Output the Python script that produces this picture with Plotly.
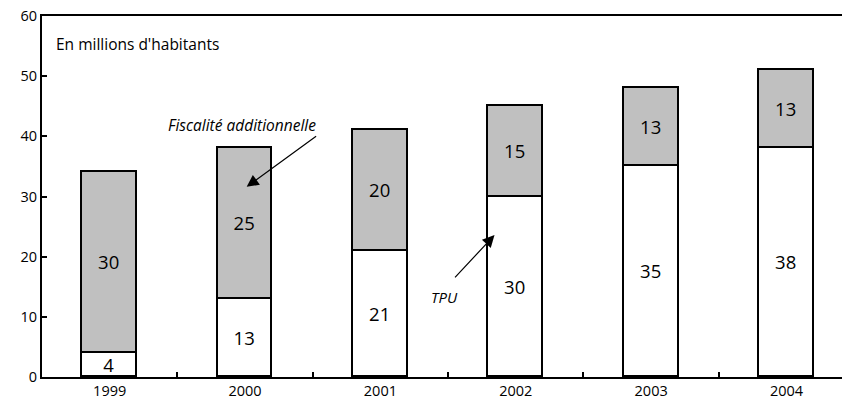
import plotly.graph_objects as go

years = ["1999", "2000", "2001", "2002", "2003", "2004"]
tpu = [4, 13, 21, 30, 35, 38]
fiscalite = [30, 25, 20, 15, 13, 13]
y_ticks = [0, 10, 20, 30, 40, 50, 60]

FONT = "'Open Sans', Lato, sans-serif"

fig = go.Figure()
fig.add_trace(go.Bar(
    x=years, y=tpu, name="TPU",
    marker=dict(color="white", line=dict(color="black", width=1.6)),
    text=[str(v) for v in tpu], textposition="inside", insidetextanchor="middle",
    textangle=0, textfont=dict(size=18.5, color="black", family=FONT),
    width=0.405,
))
fig.add_trace(go.Bar(
    x=years, y=fiscalite, name="Fiscalité additionnelle",
    marker=dict(color="#c0c0c0", line=dict(color="black", width=1.6)),
    text=[str(v) for v in fiscalite], textposition="inside", insidetextanchor="middle",
    textangle=0, textfont=dict(size=18.5, color="black", family=FONT),
    width=0.405,
))

fig.update_layout(
    barmode="stack",
    width=842, height=409,
    margin=dict(l=42, r=0, t=16, b=32),
    plot_bgcolor="white", paper_bgcolor="white",
    showlegend=False,
    font=dict(family=FONT, size=15, color="black"),
    uniformtext=dict(minsize=18, mode="show"),
    xaxis=dict(
        type="category", range=[-0.5, 5.41],
        showline=True, linecolor="black", linewidth=1.6, mirror=True,
        ticks="inside", tickson="boundaries", ticklen=5, tickcolor="black", tickwidth=1.5,
        showgrid=False, tickfont=dict(size=14.5), automargin=False, ticklabeloverflow="allow",
    ),
    yaxis=dict(
        range=[0, 60], tickvals=y_ticks,
        showline=True, linecolor="black", linewidth=2,
        ticks="inside", ticklen=5, tickcolor="black", tickwidth=1.5,
        showgrid=False, zeroline=False, tickfont=dict(size=14.5), automargin=False,
        ticklabeloverflow="allow",
    ),
    bargap=0,
)

fig.add_annotation(xref="paper", yref="paper", x=0.015, y=0.922, xanchor="left", yanchor="middle",
                   text="En millions d'habitants", showarrow=False, font=dict(size=15.5))

fig.add_annotation(x=1.012, y=31.6, ax=1.536, ay=40.2, axref="x", ayref="y",
                   text="", showarrow=True, arrowhead=2, arrowsize=2, arrowwidth=1.2, arrowcolor="black")
fig.add_annotation(x=0.98, y=41.9, text="<i>Fiscalité additionnelle</i>", showarrow=False,
                   font=dict(size=15.5))
fig.add_annotation(x=2.843, y=23.6, ax=2.541, ay=16.3, axref="x", ayref="y",
                   text="", showarrow=True, arrowhead=2, arrowsize=2, arrowwidth=1.2, arrowcolor="black")
fig.add_annotation(x=2.474, y=13.3, text="<i>TPU</i>", showarrow=False, font=dict(size=15))

fig.write_html("out.html", config={"displayModeBar": False},
               post_script="document.body.style.margin='0';")
